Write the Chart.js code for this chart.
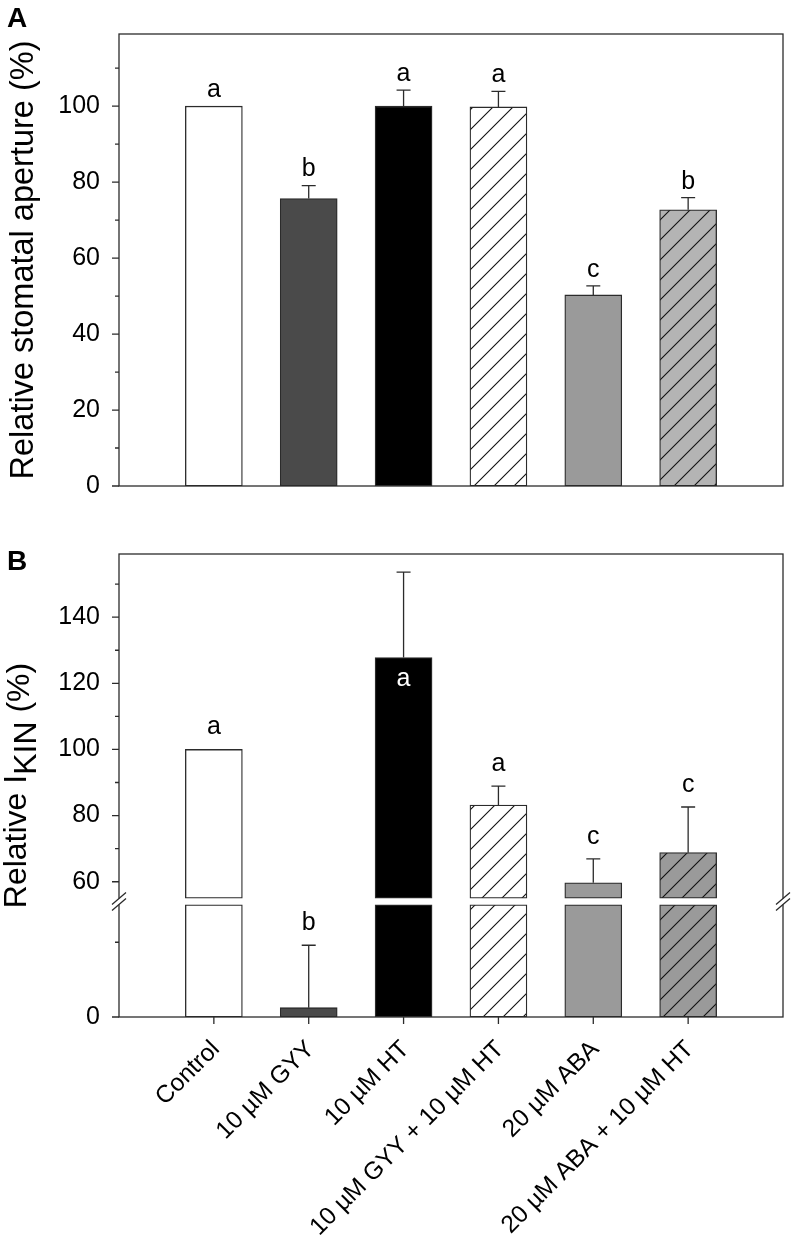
<!DOCTYPE html>
<html>
<head>
<meta charset="utf-8">
<script src="https://cdn.jsdelivr.net/npm/chart.js@4.4.0/dist/chart.umd.min.js"></script>
<style>
    body { margin: 0; background: #fff; width: 793px; height: 1238px; position: relative; overflow: hidden; }
    canvas { position: absolute; left: 0; }
    #chartA { top: 0; }
    #chartB { top: 520px; }
</style>
</head>
<body>
<canvas id="chartA" width="793" height="520"></canvas>
<canvas id="chartB" width="793" height="718"></canvas>
<script>
const categories = ['Control', '10 µM GYY', '10 µM HT', '10 µM GYY + 10 µM HT', '20 µM ABA', '20 µM ABA + 10 µM HT'];

// Panel A - relative stomatal aperture (%)
const apertureMean = [100, 75.7, 100, 99.8, 50.3, 72.7];
const apertureErr = [0, 3.4, 4.2, 4.1, 2.4, 3.2];
const apertureLetters = ['a', 'b', 'a', 'a', 'c', 'b'];
const apertureTicks = [0, 20, 40, 60, 80, 100];
const apertureMinor = [10, 30, 50, 70, 90, 110];

// Panel B - relative IKIN (%)
const ikinMean = [100, 1.25, 127.8, 83.2, 59.7, 68.8];
const ikinErr = [0, 8.35, 25.8, 5.7, 7.2, 13.8];
const ikinLetters = ['a', 'b', 'a', 'a', 'c', 'c'];
const ikinTicks = [0, 60, 80, 100, 120, 140];
const ikinMinor = [10, 70, 90, 110, 130, 150];

const FONT = "'Liberation Sans', Arial, sans-serif";
const LINE = '#2b2b2b';

// axis break in panel B: 0-15 is stretched below the break, 55 and up above it
const LOW_TOP = 15, HIGH_START = 55;
const LOW_STRETCH = 2.26, GAP = 2;
function toAxisB(v) {
    if (v <= LOW_TOP) return v * LOW_STRETCH;
    return LOW_TOP * LOW_STRETCH + GAP + (v - HIGH_START);
}
const BREAK_AT = LOW_TOP * LOW_STRETCH + GAP / 2;

// diagonal hatch fill
function hatch(bg) {
    const c = document.createElement('canvas');
    c.width = 20; c.height = 20;
    const g = c.getContext('2d');
    g.fillStyle = bg;
    g.fillRect(0, 0, 20, 20);
    g.strokeStyle = '#111';
    g.lineWidth = 1.1;
    g.beginPath();
    g.moveTo(-2, 22); g.lineTo(22, -2);
    g.moveTo(-2, 2); g.lineTo(2, -2);
    g.moveTo(18, 22); g.lineTo(22, 18);
    g.stroke();
    return g.createPattern(c, 'repeat');
}

const fillsA = ['#ffffff', '#4a4a4a', '#000000', hatch('#ffffff'), '#9a9a9a', hatch('#b4b4b4')];
const fillsB = ['#ffffff', '#4a4a4a', '#000000', hatch('#ffffff'), '#9a9a9a', hatch('#9a9a9a')];

// frame, ticks, error bars, letters and titles
function decorations(o) {
    return {
        id: 'decor' + o.name,
        afterDatasetsDraw(chart) {
            const ctx = chart.ctx, area = chart.chartArea;
            const xs = chart.scales.x, ys = chart.scales.y;
            ctx.save();
            ctx.strokeStyle = LINE;
            ctx.lineWidth = 1.3;

            // error bars
            o.mean.forEach((m, i) => {
                if (!o.err[i]) return;
                const px = xs.getPixelForValue(i);
                const y0 = ys.getPixelForValue(o.map(m));
                const y1 = ys.getPixelForValue(o.map(m + o.err[i]));
                ctx.beginPath();
                ctx.moveTo(px, y0); ctx.lineTo(px, y1);
                ctx.moveTo(px - 7, y1); ctx.lineTo(px + 7, y1);
                ctx.stroke();
            });

            // frame
            ctx.strokeRect(area.left, area.top, area.right - area.left, area.bottom - area.top);

            // y ticks
            ctx.beginPath();
            o.ticks.forEach(v => {
                const py = ys.getPixelForValue(o.map(v));
                ctx.moveTo(area.left - 7, py); ctx.lineTo(area.left, py);
            });
            o.minor.forEach(v => {
                const py = ys.getPixelForValue(o.map(v));
                ctx.moveTo(area.left - 4, py); ctx.lineTo(area.left, py);
            });
            if (o.xTicks) {
                categories.forEach((c, i) => {
                    const px = xs.getPixelForValue(i);
                    ctx.moveTo(px, area.bottom); ctx.lineTo(px, area.bottom + 7);
                });
            }
            ctx.stroke();

            // axis break marks
            if (o.breakAt !== undefined) {
                const py = ys.getPixelForValue(o.breakAt);
                [area.left, area.right].forEach(ax => {
                    ctx.fillStyle = '#fff';
                    ctx.fillRect(ax - 2, py - 3, 4, 6);
                    ctx.beginPath();
                    ctx.moveTo(ax - 7, py + 3); ctx.lineTo(ax + 7, py - 9);
                    ctx.moveTo(ax - 7, py + 9); ctx.lineTo(ax + 7, py - 3);
                    ctx.stroke();
                });
            }

            // significance letters
            ctx.font = '25px ' + FONT;
            ctx.textAlign = 'center';
            ctx.textBaseline = 'middle';
            o.letters.forEach((l, i) => {
                const px = xs.getPixelForValue(i);
                const top = ys.getPixelForValue(o.map(o.mean[i] + o.err[i]));
                if (o.inside && o.inside[i]) {
                    ctx.fillStyle = '#fff';
                    ctx.fillText(l, px, ys.getPixelForValue(o.map(o.mean[i])) + o.letterGap);
                } else {
                    ctx.fillStyle = '#000';
                    ctx.fillText(l, px, top - o.letterGap);
                }
            });

            // panel label
            ctx.fillStyle = '#000';
            ctx.textAlign = 'left';
            ctx.textBaseline = 'alphabetic';
            ctx.font = 'bold 28px ' + FONT;
            ctx.fillText(o.name, 7, o.labelY);

            // y title (rotated)
            ctx.font = o.titleSize + 'px ' + FONT;
            const parts = o.title;
            const total = parts.reduce((s, p) => s + ctx.measureText(p.text).width, 0);
            ctx.translate(o.titleX, (area.top + area.bottom) / 2);
            ctx.rotate(-Math.PI / 2);
            let tx = -total / 2;
            parts.forEach(p => {
                ctx.fillText(p.text, tx, p.shift || 0);
                tx += ctx.measureText(p.text).width;
            });
            ctx.restore();
        }
    };
}

const chartA = new Chart(document.getElementById('chartA'), {
    type: 'bar',
    data: {
        datasets: [{
            data: categories.map((c, i) => ({ x: i, y: apertureMean[i] })),
            backgroundColor: fillsA,
            borderColor: LINE,
            borderWidth: 1.3,
            borderSkipped: false,
            barThickness: 57
        }]
    },
    options: {
        responsive: false,
        animation: false,
        devicePixelRatio: 1,
        layout: { padding: { left: 0, top: 34, right: 10, bottom: 22 } },
        plugins: { legend: { display: false }, tooltip: { enabled: false } },
        scales: {
            x: { type: 'linear', min: -1, max: 6, offset: false, display: false },
            y: {
                min: 0, max: 119,
                afterFit: axis => { axis.width = 119; },
                afterBuildTicks: axis => { axis.ticks = apertureTicks.map(v => ({ value: v })); },
                grid: { display: false, drawTicks: false },
                border: { display: false },
                ticks: { padding: 19, color: '#000', font: { family: FONT, size: 25 } }
            }
        }
    },
    plugins: [decorations({
        name: 'A', mean: apertureMean, err: apertureErr, letters: apertureLetters,
        ticks: apertureTicks, minor: apertureMinor, map: v => v,
        letterGap: 16, labelY: 27, titleX: 33, titleSize: 32.5,
        title: [{ text: 'Relative stomatal aperture (%)' }]
    })]
});

const lowerPieces = categories.map((c, i) => ({ x: i, y: [0, toAxisB(Math.min(ikinMean[i], LOW_TOP))] }));
const upperPieces = categories.map((c, i) => ({ x: i, y: ikinMean[i] > HIGH_START ? [toAxisB(HIGH_START), toAxisB(ikinMean[i])] : null }));

const chartB = new Chart(document.getElementById('chartB'), {
    type: 'bar',
    data: {
        datasets: [{
            data: lowerPieces,
            backgroundColor: fillsB,
            borderColor: LINE,
            borderWidth: 1.3,
            borderSkipped: false,
            barThickness: 57,
            grouped: false
        }, {
            data: upperPieces,
            backgroundColor: fillsB,
            borderColor: LINE,
            borderWidth: 1.3,
            borderSkipped: false,
            barThickness: 57,
            grouped: false
        }]
    },
    options: {
        responsive: false,
        animation: false,
        devicePixelRatio: 1,
        layout: { padding: { left: 0, top: 33, right: 10, bottom: 0 } },
        plugins: { legend: { display: false }, tooltip: { enabled: false } },
        scales: {
            x: {
                type: 'linear', min: -1, max: 6, offset: false,
                afterFit: axis => { axis.height = 221; },
                afterBuildTicks: axis => { axis.ticks = categories.map((c, i) => ({ value: i })); },
                grid: { display: false, drawTicks: false },
                border: { display: false },
                ticks: {
                    autoSkip: false, minRotation: 45, maxRotation: 45, padding: 18, labelOffset: 2,
                    color: '#000', font: { family: FONT, size: 24.5 },
                    callback: (v, i) => categories[i]
                }
            },
            y: {
                min: 0, max: 140,
                afterFit: axis => { axis.width = 119; },
                afterBuildTicks: axis => { axis.ticks = ikinTicks.map(v => ({ value: toAxisB(v) })); },
                grid: { display: false, drawTicks: false },
                border: { display: false },
                ticks: { padding: 19, color: '#000', font: { family: FONT, size: 25 }, callback: (v, i) => ikinTicks[i] }
            }
        }
    },
    plugins: [decorations({
        name: 'B', mean: ikinMean, err: ikinErr, letters: ikinLetters,
        inside: [false, false, true, false, false, false],
        ticks: ikinTicks, minor: ikinMinor, map: toAxisB, breakAt: BREAK_AT, xTicks: true,
        letterGap: 22, labelY: 50, titleX: 26, titleSize: 32,
        title: [{ text: 'Relative I' }, { text: 'KIN', shift: 10 }, { text: ' (%)', shift: 3 }]
    })]
});
</script>
</body>
</html>
